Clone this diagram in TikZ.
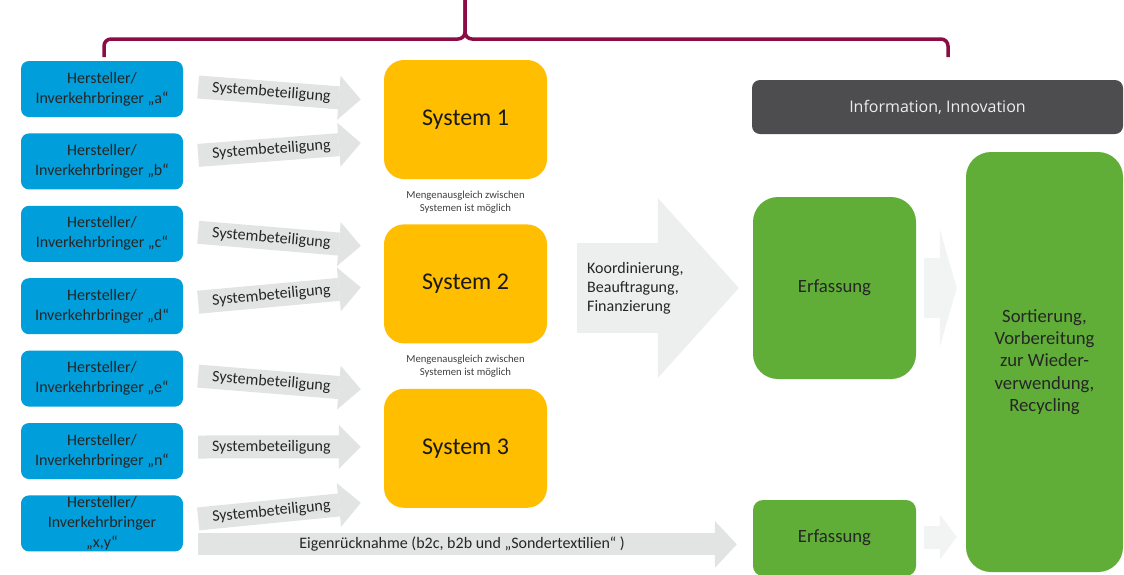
\documentclass[tikz,border=0pt]{standalone}
\usepackage{fontspec}
\setmainfont{Carlito}
\newfontfamily\infofont{Open Sans}
\usetikzlibrary{positioning}
\usetikzlibrary{calc}
\usetikzlibrary{arrows.meta}

\definecolor{hblau}{RGB}{0,158,219}
\definecolor{sysgelb}{RGB}{255,190,0}
\definecolor{erfgruen}{RGB}{96,174,56}
\definecolor{infograu}{RGB}{77,77,79}
\definecolor{pfeilgrau}{RGB}{226,227,227}
\definecolor{pfeilhell}{RGB}{237,238,238}
\definecolor{pfeilweiss}{RGB}{242,243,243}
\definecolor{klammerrot}{RGB}{140,13,70}

\tikzset{
  hersteller/.style={fill=hblau, rounded corners=8pt, minimum width=162pt, minimum height=56pt,
    inner sep=0pt, align=center, text=black!85, font=\fontsize{16}{20}\selectfont},
  system/.style={fill=sysgelb, rounded corners=20pt, minimum width=163pt, minimum height=119pt,
    text=black!90, font=\fontsize{24}{28}\selectfont},
  gruen/.style={fill=erfgruen, align=center, text=black!85, font=\fontsize{18.7}{22.4}\selectfont},
  hinweis/.style={align=center, inner sep=0pt, text=black!75, font=\fontsize{10.7}{13}\selectfont},
  beteiligung/.style={draw=pfeilgrau, line width=23pt, -{Triangle[length=22pt,width=44pt,line width=0pt]}},
  pfeiltext/.style={sloped, inner sep=0pt, outer sep=0pt, text=black!85, font=\fontsize{16}{20}\selectfont},
  klammer/.style={draw=klammerrot, line width=3.5pt, rounded corners=7pt}
}

\begin{document}
\begin{tikzpicture}[x=1pt,y=-1pt]
  \fill[white] (0,0) rectangle (1124,574);
  \useasboundingbox (0,0) rectangle (1124,574);

  % Klammer oben
  \draw[klammer] (104,57) -- (104,39) -- (465,39) -- (465,0);
  \draw[klammer] (948,57) -- (948,39) -- (465,39) -- (465,0);

  % Hersteller
  \node[hersteller] (ha) at (102,89) {Hersteller/\\Inverkehrbringer „a“};
  \node[hersteller, below=16pt of ha] (hb) {Hersteller/\\Inverkehrbringer „b“};
  \node[hersteller, below=16pt of hb] (hc) {Hersteller/\\Inverkehrbringer „c“};
  \node[hersteller, below=16pt of hc] (hd) {Hersteller/\\Inverkehrbringer „d“};
  \node[hersteller, below=16pt of hd] (he) {Hersteller/\\Inverkehrbringer „e“};
  \node[hersteller, below=16pt of he] (hn) {Hersteller/\\Inverkehrbringer „n“};
  \node[hersteller, below=16pt of hn] (hxy) {Hersteller/\\Inverkehrbringer\\„x,y“};

  % Systeme
  \node[system] (s1) at (465.5,119.5) {System 1};
  \node[system, below=45pt of s1] (s2) {System 2};
  \node[system, below=45pt of s2] (s3) {System 3};
  \node[hinweis] (m1) at ($(s1.south)!0.5!(s2.north)$) {Mengenausgleich zwischen\\Systemen ist möglich};
  \node[hinweis] (m2) at ($(s2.south)!0.5!(s3.north)$) {Mengenausgleich zwischen\\Systemen ist möglich};

  % Erfassung, Verwertung
  \node[fill=infograu, rounded corners=8pt, minimum width=371pt, minimum height=54pt, text=white!93!black,
    font=\infofont\fontsize{16}{20}\selectfont] (info) at (937.5,107) {Information, Innovation};
  \node[gruen, rounded corners=25pt, minimum width=163pt, minimum height=182pt] (e1) at (834.5,288) {Erfassung};
  \node[gruen, rounded corners=10pt, minimum width=163pt, minimum height=76pt] (e2) at (834.5,538) {Erfassung};
  \node[gruen, rounded corners=25pt, minimum width=157pt, minimum height=420pt] (sort) at (1044.5,362)
    {Sortierung,\\Vorbereitung\\zur Wieder-\\verwendung,\\Recycling};

  % Systembeteiligung
  \draw[beteiligung] ([xshift=15pt,yshift=2pt]ha.east) -- ([xshift=-23pt,yshift=20pt]s1.west)
    node[pfeiltext, pos=0.45] {Systembeteiligung};
  \draw[beteiligung] ([xshift=15pt,yshift=6pt]hb.east) -- ([xshift=-23pt,yshift=-23.5pt]s1.west)
    node[pfeiltext, pos=0.45] {Systembeteiligung};
  \draw[beteiligung] ([xshift=15pt,yshift=1.5pt]hc.east) -- ([xshift=-23pt,yshift=38pt]s2.west)
    node[pfeiltext, pos=0.45] {Systembeteiligung};
  \draw[beteiligung] ([xshift=15pt,yshift=4pt]hd.east) -- ([xshift=-23pt,yshift=-3.5pt]s2.west)
    node[pfeiltext, pos=0.45] {Systembeteiligung};
  \draw[beteiligung] ([xshift=15pt,yshift=2.5pt]he.east) -- ([xshift=-23pt,yshift=59pt]s3.west)
    node[pfeiltext, pos=0.45] {Systembeteiligung};
  \draw[beteiligung] ([xshift=15pt,yshift=4pt]hn.east) -- ([xshift=-23pt,yshift=1.5pt]s3.west)
    node[pfeiltext, pos=0.45] {Systembeteiligung};
  \draw[beteiligung] ([xshift=15pt,yshift=4.5pt]hxy.east) -- ([xshift=-23pt,yshift=-54.5pt]s3.west)
    node[pfeiltext, pos=0.45] {Systembeteiligung};

  % Eigenruecknahme
  \coordinate (eigen) at ($(hxy.east)+(15,21)$);
  \draw[beteiligung, line width=22pt, -{Triangle[length=22pt,width=47pt,line width=0pt]}]
    (eigen) -- ($(eigen -| e2.west)+(-16,0)$)
    node[pfeiltext, pos=0.49] {Eigenrücknahme (b2c, b2b und „Sondertextilien“ )};

  % Koordinierung
  \draw[draw=pfeilhell, line width=90pt, -{Triangle[length=81pt,width=180pt,line width=0pt]}]
    ($(s2.east |- e1.west)+(30,0)$) -- ($(e1.west)+(-14,0)$)
    node[pos=0, anchor=west, xshift=10pt, inner sep=0pt, outer sep=0pt, align=left, text=black!85,
      font=\fontsize{16}{19}\selectfont] {Koordinierung,\\Beauftragung,\\Finanzierung};

  % zur Sortierung
  \draw[draw=pfeilweiss, line width=60pt, -{Triangle[length=17pt,width=117pt,line width=0pt]}]
    ($(e1.east)+(8,0)$) -- ($(e1.east -| sort.west)+(-9,0)$);
  \draw[draw=pfeilweiss, line width=23pt, -{Triangle[length=17pt,width=45pt,line width=0pt]}]
    ($(e2.east)+(8,-1)$) -- ($(e2.east -| sort.west)+(-9,-1)$);
\end{tikzpicture}
\end{document}
